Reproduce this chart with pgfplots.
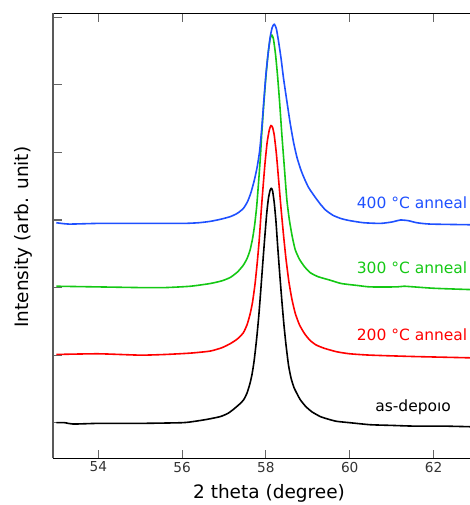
\documentclass[border=0pt]{standalone}
\usepackage{fontspec}
\setmainfont{DejaVu Sans}
\usepackage{pgfplots}
\pgfplotsset{compat=1.18}
\usetikzlibrary{calc}
\definecolor{cblue}{RGB}{30,80,255}
\definecolor{cgreen}{RGB}{20,200,20}
\definecolor{cred}{RGB}{255,0,0}
\begin{document}
\begin{tikzpicture}
\begin{axis}[
  scale only axis, width=417pt, height=445pt,
  xmin=52.92, xmax=62.87, ymin=-0.527, ymax=6.06,
  axis x line=box, axis y line=left,
  axis line style={-, line width=1.1pt},
  y axis line style={-, draw=black!65},
  xtick={54,56,58,60,62}, ytick={0,1,2,3,4,5,6}, yticklabels={},
  xtick pos=both, ytick pos=left,
  tick align=inside, major tick length=8.5pt,
  tick style={black!60, line width=1.1pt},
  /pgf/number format/assume math mode=true,
  ticklabel style={font=\fontsize{13.7}{16}\selectfont, text=black!80},
  xlabel={2 theta (degree)}, ylabel={Intensity (arb. unit)},
  label style={font=\fontsize{18.5}{22}\selectfont},
  xlabel style={at={(axis description cs:0.518,0)}, anchor=center, yshift=-34.7pt},
  ylabel style={at={(axis description cs:-0.072,0.497)}, anchor=center},
  every axis plot/.append style={line width=1.6pt, line join=round, smooth, tension=0.35},
  clip=true,
]
\addplot[black] coordinates {
(53.0,0.00)(53.2,0.00)(53.4,-0.02)(54.0,-0.01)(55.0,-0.01)(56.0,0.00)(56.3,0.02)(56.6,0.05)(56.91,0.09)(57.1,0.14)(57.25,0.21)(57.38,0.28)(57.47,0.34)(57.55,0.44)(57.62,0.58)(57.67,0.72)(57.72,0.92)(57.78,1.25)(57.83,1.58)(57.88,1.98)(57.93,2.40)(57.98,2.80)(58.02,3.10)(58.06,3.32)(58.10,3.44)(58.13,3.47)(58.16,3.43)(58.20,3.25)(58.24,2.98)(58.28,2.62)(58.33,2.20)(58.38,1.81)(58.43,1.45)(58.48,1.15)(58.54,0.85)(58.60,0.66)(58.67,0.52)(58.75,0.42)(58.82,0.34)(58.95,0.24)(59.10,0.16)(59.30,0.09)(59.50,0.05)(59.69,0.02)(60.0,0.00)(60.49,-0.03)(61.0,-0.04)(61.5,-0.05)(62.2,-0.05)(62.9,-0.06)};
\addplot[cred] coordinates {
(53.0,1.01)(54.0,1.02)(55.0,1.00)(55.6,1.01)(56.2,1.03)(56.67,1.06)(56.95,1.11)(57.15,1.17)(57.32,1.24)(57.46,1.33)(57.55,1.45)(57.62,1.60)(57.68,1.78)(57.74,2.05)(57.79,2.35)(57.84,2.70)(57.89,3.15)(57.94,3.55)(57.98,3.85)(58.03,4.15)(58.08,4.33)(58.12,4.40)(58.16,4.37)(58.20,4.25)(58.25,3.98)(58.30,3.62)(58.36,3.18)(58.42,2.78)(58.48,2.42)(58.55,2.08)(58.62,1.83)(58.70,1.62)(58.80,1.45)(58.92,1.32)(59.05,1.22)(59.2,1.15)(59.4,1.10)(59.69,1.05)(60.0,1.02)(60.49,1.00)(61.5,0.98)(62.9,0.96)};
\addplot[cgreen] coordinates {
(53.0,2.02)(54.0,2.01)(55.0,2.00)(55.6,2.00)(56.2,2.02)(56.67,2.06)(56.95,2.10)(57.15,2.15)(57.32,2.23)(57.46,2.33)(57.55,2.43)(57.62,2.55)(57.68,2.72)(57.73,2.92)(57.78,3.20)(57.83,3.60)(57.87,3.95)(57.90,4.27)(57.95,4.72)(58.00,5.12)(58.05,5.45)(58.10,5.68)(58.14,5.74)(58.18,5.68)(58.23,5.45)(58.28,5.12)(58.33,4.72)(58.38,4.27)(58.44,3.78)(58.50,3.30)(58.56,3.00)(58.63,2.75)(58.70,2.56)(58.80,2.42)(58.92,2.31)(59.06,2.22)(59.25,2.16)(59.53,2.11)(59.8,2.06)(60.2,2.03)(60.49,2.01)(61.12,2.01)(61.3,2.02)(62.0,1.99)(62.9,1.97)};
\addplot[cblue] coordinates {
(53.0,2.96)(53.3,2.94)(54.0,2.95)(55.0,2.95)(56.03,2.95)(56.4,2.96)(56.67,2.98)(56.91,3.01)(57.15,3.05)(57.32,3.10)(57.46,3.17)(57.56,3.27)(57.64,3.40)(57.72,3.58)(57.79,3.78)(57.85,4.02)(57.90,4.35)(57.95,4.76)(58.00,5.15)(58.05,5.45)(58.10,5.70)(58.15,5.85)(58.20,5.90)(58.25,5.83)(58.30,5.65)(58.36,5.40)(58.42,5.10)(58.50,4.76)(58.58,4.43)(58.66,4.15)(58.74,3.93)(58.83,3.75)(58.92,3.61)(59.02,3.48)(59.15,3.36)(59.28,3.25)(59.42,3.15)(59.6,3.07)(59.8,3.02)(60.01,2.99)(60.33,2.96)(60.73,2.95)(61.0,2.97)(61.21,3.00)(61.4,2.99)(61.6,2.96)(61.92,2.94)(62.9,2.93)};
\node[anchor=base east, text=cblue, font=\fontsize{15.5}{18}\selectfont, inner sep=0pt] at (axis cs:62.81,3.17) {400 °C anneal};
\node[anchor=base east, text=cgreen, font=\fontsize{15.5}{18}\selectfont, inner sep=0pt] at (axis cs:62.81,2.215) {300 °C anneal};
\node[anchor=base east, text=cred, font=\fontsize{15.5}{18}\selectfont, inner sep=0pt] at (axis cs:62.81,1.224) {200 °C anneal};
\node[anchor=base east, text=black, font=\fontsize{15.5}{18}\selectfont, inner sep=0pt] at (axis cs:62.42,0.163) {as-depoıo};
\coordinate (bl) at (rel axis cs:0,0);
\end{axis}
\pgfresetboundingbox
\path[use as bounding box] ($(bl)+(-53pt,-46.7pt)$) rectangle ++(470pt,505pt);
\end{tikzpicture}
\end{document}
